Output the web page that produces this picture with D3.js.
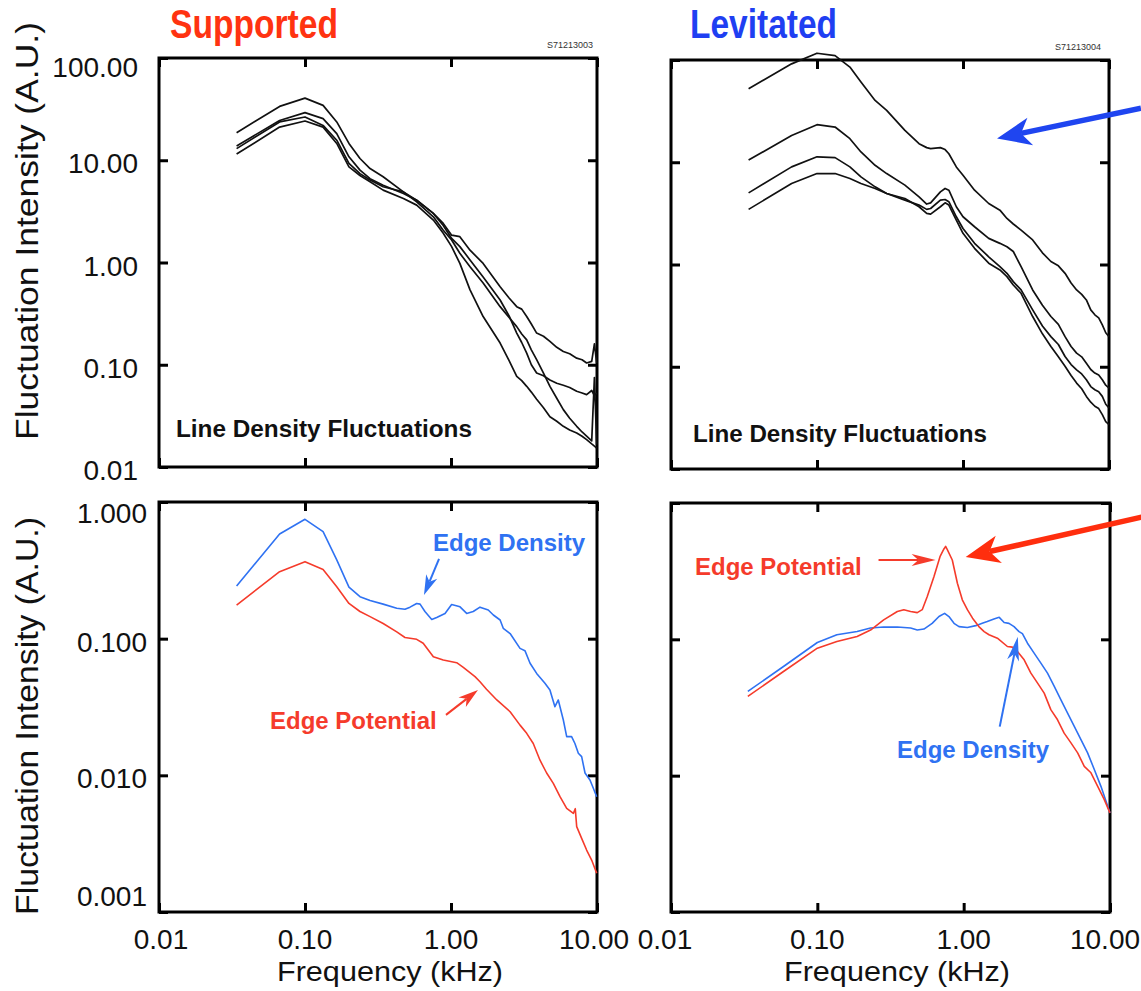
<!DOCTYPE html>
<html>
<head>
<meta charset="utf-8">
<script src="https://cdnjs.cloudflare.com/ajax/libs/d3/7.8.5/d3.min.js"></script>
<style>
body { margin: 0; background: #fff; }
svg { display: block; font-family: "Liberation Sans", Arial, Helvetica, sans-serif; }
</style>
</head>
<body>
<div id="chart"></div>
<script>
// ---- line density spectra, supported (top left), kHz / A.U.
var freqTL = [0.034, 0.067, 0.1, 0.133, 0.165, 0.2, 0.238, 0.279, 0.343, 0.472, 0.582, 0.757, 0.885, 1.01, 1.15, 1.35, 1.66,
	2.17, 2.5, 2.82, 3.05, 3.3, 3.55, 3.86, 4.3, 4.76, 5.3, 5.88, 6.5, 7.26, 7.9, 8.49, 9.2, 9.6, 9.95];
var lineTL1 = [18.6, 33.6, 40.5, 34.4, 23.7, 14.6, 10.4, 8.3, 6.9, 4.9, 4.07, 3.02, 2.41, 1.85, 1.79, 1.32, 0.98,
	0.58, 0.45, 0.37, 0.35, 0.296, 0.25, 0.204, 0.19, 0.169, 0.148, 0.135, 0.128, 0.116, 0.112, 0.104, 0.108, 0.16, 0.104];
var lineTL2 = [13.8, 24.5, 29.2, 25.5, 18.2, 10.8, 8.0, 6.6, 5.7, 4.73, 4.07, 3.02, 2.3, 1.72, 1.43, 1.06, 0.72,
	0.43, 0.30, 0.204, 0.165, 0.130, 0.10, 0.083, 0.078, 0.071, 0.066, 0.063, 0.060, 0.055, 0.053, 0.051, 0.056, 0.05, 0.053];
var lineTL3 = [13.0, 23.7, 26.5, 21.9, 15.7, 9.3, 7.4, 6.4, 5.5, 4.9, 3.92, 2.8, 2.07, 1.66, 1.23, 0.91, 0.63,
	0.37, 0.29, 0.236, 0.20, 0.175, 0.14, 0.112, 0.083, 0.0615, 0.047, 0.0364, 0.030, 0.025, 0.022, 0.020, 0.018, 0.075, 0.0166];
var lineTL4 = [11.5, 21.1, 24.2, 21.1, 14.6, 8.6, 7.1, 6.15, 5.1, 4.23, 3.64, 2.6, 1.93, 1.43, 0.98, 0.54, 0.296,
	0.163, 0.11, 0.077, 0.07, 0.0615, 0.054, 0.046, 0.038, 0.031, 0.028, 0.025, 0.023, 0.0215, 0.020, 0.0185, 0.0168, 0.016, 0.0153];

// ---- line density spectra, levitated (top right)
var freqTR = [0.034, 0.067, 0.1, 0.133, 0.168, 0.2, 0.25, 0.3, 0.4, 0.5, 0.564, 0.6, 0.7, 0.754, 0.8, 0.9, 1.0, 1.2, 1.5,
	1.79, 2.0, 2.21, 2.5, 3.0, 3.5, 4.0, 4.5, 5.0, 5.5, 6.0, 6.5, 7.0, 7.5, 8.0, 8.5, 9.0, 9.5, 10];
var lineTR1 = [52.3, 91.7, 116.5, 110.5, 85.2, 60.8, 40.2, 32.2, 20.5, 15.2, 13.9, 13.6, 13.9, 13.3, 12.1, 9.0, 7.47, 5.33, 3.95,
	3.40, 2.82, 2.49, 2.17, 1.74, 1.30, 1.07, 0.97, 0.82, 0.66, 0.564, 0.51, 0.45, 0.36, 0.322, 0.30, 0.257, 0.215, 0.197];
var lineTR2 = [10.5, 18.3, 23.3, 22.1, 17.0, 12.6, 9.34, 7.75, 5.97, 4.59, 3.90, 4.01, 5.13, 5.54, 5.33, 3.67, 2.93, 2.34, 1.80,
	1.61, 1.49, 1.34, 0.952, 0.564, 0.40, 0.31, 0.26, 0.197, 0.158, 0.136, 0.125, 0.108, 0.094, 0.0868, 0.083, 0.0747, 0.066, 0.0619];
var lineTR3 = [5.02, 9.01, 11.3, 11.1, 9.01, 7.19, 5.75, 4.95, 4.26, 3.81, 3.46, 3.53, 4.26, 4.32, 4.11, 2.93, 2.25, 1.61, 1.19,
	0.952, 0.82, 0.68, 0.564, 0.360, 0.25, 0.197, 0.165, 0.126, 0.105, 0.0934, 0.085, 0.0747, 0.064, 0.0596, 0.057, 0.0513, 0.043, 0.0395];
var lineTR4 = [3.46, 6.19, 7.75, 7.75, 6.93, 6.19, 5.54, 4.95, 4.42, 3.67, 3.16, 3.11, 3.67, 4.01, 3.81, 2.72, 2.02, 1.44, 1.03,
	0.884, 0.761, 0.63, 0.523, 0.310, 0.21, 0.158, 0.125, 0.101, 0.082, 0.0692, 0.061, 0.0513, 0.045, 0.0411, 0.039, 0.034, 0.029, 0.0272];

// ---- edge probes, supported (bottom left)
var freqBLdens = [0.034, 0.067, 0.1, 0.133, 0.165, 0.2, 0.238, 0.279, 0.343, 0.425, 0.484, 0.524, 0.582, 0.614, 0.663, 0.738,
	0.798, 0.910, 1.01, 1.153, 1.28, 1.42, 1.58, 1.80, 1.95, 2.17, 2.28, 2.54, 2.97, 3.21, 3.48, 3.86, 4.40, 4.76, 5.15, 5.43,
	5.88, 6.20, 6.70, 7.06, 7.45, 7.85, 8.28, 8.95, 9.44, 9.95];
var densBL = [0.243, 0.583, 0.747, 0.607, 0.377, 0.238, 0.203, 0.190, 0.179, 0.167, 0.164, 0.170, 0.181, 0.179, 0.158, 0.138,
	0.143, 0.153, 0.178, 0.171, 0.153, 0.158, 0.170, 0.162, 0.149, 0.137, 0.119, 0.109, 0.0849, 0.0817, 0.0661, 0.0557, 0.0471, 0.0421, 0.0318, 0.0356,
	0.0254, 0.0192, 0.0192, 0.0171, 0.0145, 0.0137, 0.0104, 0.00925, 0.00804, 0.00698];
var freqBLpot = [0.034, 0.067, 0.1, 0.133, 0.165, 0.2, 0.238, 0.279, 0.343, 0.425, 0.484, 0.582, 0.645, 0.757, 0.885, 1.094,
	1.214, 1.46, 1.58, 1.75, 2.06, 2.54, 2.97, 3.30, 3.66, 4.07, 4.52, 5.02, 5.58, 6.20, 6.89, 7.1, 7.26, 7.85, 8.49, 9.19, 9.95];
var potBL = [0.176, 0.309, 0.366, 0.321, 0.240, 0.181, 0.158, 0.145, 0.129, 0.112, 0.102, 0.0989, 0.0925, 0.0738, 0.0698, 0.0667,
	0.0617, 0.0527, 0.0484, 0.0426, 0.0356, 0.0292, 0.0233, 0.0203, 0.0171, 0.0129, 0.0104, 0.00873, 0.00698, 0.00574, 0.00527, 0.0057, 0.00421, 0.00346, 0.00284, 0.00240, 0.00192];

// ---- edge probes, levitated (bottom right)
var freqBRpot = [0.0335, 0.0587, 0.1, 0.136, 0.187, 0.231, 0.284, 0.352, 0.390, 0.434, 0.482, 0.521, 0.564, 0.627, 0.689, 0.733,
	0.753, 0.773, 0.836, 0.906, 0.979, 1.06, 1.15, 1.27, 1.38, 1.49, 1.70, 1.99, 2.15, 2.33, 2.59, 2.88, 3.20, 3.55, 3.94, 4.38,
	4.86, 5.41, 6.01, 6.67, 7.41, 8.24, 9.14, 10];
var potBR = [0.0381, 0.0581, 0.0861, 0.0964, 0.105, 0.117, 0.139, 0.160, 0.165, 0.160, 0.157, 0.165, 0.206, 0.289, 0.404, 0.46,
	0.48, 0.455, 0.382, 0.258, 0.195, 0.165, 0.143, 0.124, 0.114, 0.108, 0.102, 0.0886, 0.0877, 0.0814, 0.0707, 0.0565, 0.0477, 0.0403, 0.0305, 0.0257,
	0.0205, 0.0174, 0.0147, 0.0117, 0.0105, 0.00835, 0.00667, 0.00533];
var freqBRdens = [0.0335, 0.0587, 0.1, 0.136, 0.187, 0.231, 0.284, 0.352, 0.434, 0.482, 0.535, 0.609, 0.678, 0.741, 0.793, 0.859,
	0.929, 1.06, 1.21, 1.34, 1.45, 1.61, 1.75, 1.89, 2.04, 2.21, 2.39, 2.52, 2.73, 3.03, 3.37, 3.74, 4.16, 4.62, 5.13, 5.70,
	6.33, 7.03, 7.81, 8.67, 10];
var densBR = [0.0415, 0.0632, 0.0948, 0.108, 0.114, 0.121, 0.123, 0.123, 0.121, 0.117, 0.119, 0.131, 0.147, 0.155, 0.147, 0.131,
	0.124, 0.122, 0.126, 0.131, 0.135, 0.141, 0.145, 0.133, 0.131, 0.124, 0.114, 0.110, 0.0937, 0.0792, 0.0669, 0.0565, 0.0451, 0.0360, 0.0288, 0.0230,
	0.0184, 0.0147, 0.0111, 0.00835, 0.00533];

// ---- ticks
var xTicks = [0.01, 0.1, 1, 10];
var xTickLabels = ["0.01", "0.10", "1.00", "10.00"];
var yTicksTop = [0.01, 0.1, 1, 10, 100];
var yTickLabelsTop = ["0.01", "0.10", "1.00", "10.00", "100.00"];
var yTicksBottom = [0.001, 0.01, 0.1, 1];
var yTickLabelsBottom = ["0.001", "0.010", "0.100", "1.000"];

var RED = "#f53b2b", BLUE = "#2f72f2";

var width = 1141, height = 991, svg;

function init() {
	svg = d3.select("#chart").append("svg")
		.attr("width", width)
		.attr("height", height);

	var tl = drawPanel({left: 159, right: 597, top: 58, bottom: 467, yDomain: [0.01, 100]});
	var tr = drawPanel({left: 671, right: 1109, top: 60, bottom: 469, yDomain: [0.01, 100]});
	var bl = drawPanel({left: 159, right: 597, top: 502, bottom: 912, yDomain: [0.001, 1]});
	var br = drawPanel({left: 671, right: 1110, top: 503, bottom: 912, yDomain: [0.001, 1]});

	[lineTL1, lineTL2, lineTL3, lineTL4].forEach(function(v) { drawSeries(tl, freqTL, v, "#111", 1.7); });
	[lineTR1, lineTR2, lineTR3, lineTR4].forEach(function(v) { drawSeries(tr, freqTR, v, "#111", 1.7); });
	drawSeries(bl, freqBLpot, potBL, RED, 1.6);
	drawSeries(bl, freqBLdens, densBL, BLUE, 1.6);
	drawSeries(br, freqBRdens, densBR, BLUE, 1.6);
	drawSeries(br, freqBRpot, potBR, RED, 1.6);

	// y tick labels (left panels only)
	yLabels(tl, yTicksTop, yTickLabelsTop, 138, {"100": 9});
	yLabels(bl, yTicksBottom, yTickLabelsBottom, 147, {"1": 11, "0.001": -16});
	// x tick labels (bottom panels only)
	xLabels(bl, {"0.01": 2, "10": -3});
	xLabels(br, {"0.01": -6, "10": -5});

	// axis titles
	yTitle(38, 231, 418);
	yTitle(38, 716, 398);
	xTitle(390);
	xTitle(897);

	// panel titles
	svg.append("text").attr("x", 170).attr("y", 38).attr("font-size", 40).attr("font-weight", "bold")
		.attr("fill", "#ff3311").attr("textLength", 168).attr("lengthAdjust", "spacingAndGlyphs").text("Supported");
	svg.append("text").attr("x", 690).attr("y", 38).attr("font-size", 40).attr("font-weight", "bold")
		.attr("fill", "#1f3ff2").attr("textLength", 147).attr("lengthAdjust", "spacingAndGlyphs").text("Levitated");
	svg.append("text").attr("x", 593).attr("y", 48).attr("text-anchor", "end").attr("font-size", 9)
		.attr("fill", "#333").text("S71213003");
	svg.append("text").attr("x", 1101).attr("y", 50).attr("text-anchor", "end").attr("font-size", 9)
		.attr("fill", "#333").text("S71213004");

	// in-panel labels
	boldText(176, 437, "Line Density Fluctuations", "#111", 23, 296);
	boldText(693, 442, "Line Density Fluctuations", "#111", 23, 294);
	boldText(433, 551, "Edge Density", BLUE, 24);
	boldText(270, 729, "Edge Potential", RED, 24);
	boldText(695, 575, "Edge Potential", RED, 24);
	boldText(897, 758, "Edge Density", BLUE, 24);

	// arrows, given in data units of each panel
	arrow(bl, [0.828, 0.383], [0.653, 0.209], BLUE, 2, 20, 6);
	arrow(bl, [0.924, 0.0277], [1.53, 0.0421], RED, 2, 20, 6);
	arrow(br, [0.262, 0.382], [0.643, 0.382], RED, 2, 24, 6);
	arrow(br, [1.764, 0.0229], [2.344, 0.1043], BLUE, 2, 24, 6);
	arrow(br, [16.56, 0.789], [1.032, 0.402], "#ff2e0e", 5.5, 34, 14);
	arrow(tr, [16.56, 33.7], [1.71, 17.1], "#1f45f0", 5.5, 34, 14);
}

function drawPanel(p) {
	var x = d3.scaleLog().domain([0.01, 10]).range([p.left, p.right]);
	var y = d3.scaleLog().domain(p.yDomain).range([p.bottom, p.top]);
	var g = svg.append("g");
	var yt = p.yDomain[0] < 0.005 ? yTicksBottom : yTicksTop;

	// inward ticks on all four sides
	g.append("g").attr("transform", "translate(0," + p.bottom + ")")
		.call(d3.axisBottom(x).tickValues(xTicks).tickSize(-9).tickFormat(""));
	g.append("g").attr("transform", "translate(0," + p.top + ")")
		.call(d3.axisTop(x).tickValues(xTicks).tickSize(-9).tickFormat(""));
	g.append("g").attr("transform", "translate(" + p.left + ",0)")
		.call(d3.axisLeft(y).tickValues(yt).tickSize(-9).tickFormat(""));
	g.append("g").attr("transform", "translate(" + p.right + ",0)")
		.call(d3.axisRight(y).tickValues(yt).tickSize(-9).tickFormat(""));
	g.selectAll(".domain").remove();
	g.selectAll(".tick line").attr("stroke", "#000").attr("stroke-width", 3);

	g.append("rect")
		.attr("x", p.left).attr("y", p.top)
		.attr("width", p.right - p.left).attr("height", p.bottom - p.top)
		.attr("fill", "none").attr("stroke", "#000").attr("stroke-width", 3);

	return {g: g, x: x, y: y, p: p};
}

function drawSeries(panel, f, v, color, w) {
	var line = d3.line()
		.x(function(d) { return panel.x(d[0]); })
		.y(function(d) { return panel.y(d[1]); });
	panel.g.append("path")
		.datum(d3.zip(f, v))
		.attr("d", line)
		.attr("fill", "none")
		.attr("stroke", color)
		.attr("stroke-width", w)
		.attr("stroke-linejoin", "round");
}

function yLabels(panel, ticks, labels, xr, shift) {
	ticks.forEach(function(t, i) {
		var dy = shift[String(t)] || 3;
		svg.append("text")
			.attr("x", xr)
			.attr("y", panel.y(t) + dy + 10)
			.attr("text-anchor", "end")
			.attr("font-size", 28)
			.attr("fill", "#111")
			.text(labels[i]);
	});
}

function xLabels(panel, shift) {
	xTicks.forEach(function(t, i) {
		var dx = shift[String(t)] || 0;
		svg.append("text")
			.attr("x", panel.x(t) + dx)
			.attr("y", 949)
			.attr("text-anchor", "middle")
			.attr("font-size", 28)
			.attr("fill", "#111")
			.text(xTickLabels[i]);
	});
}

function xTitle(xc) {
	svg.append("text")
		.attr("x", xc).attr("y", 981)
		.attr("text-anchor", "middle")
		.attr("font-size", 28)
		.attr("fill", "#111")
		.attr("textLength", 226)
		.attr("lengthAdjust", "spacingAndGlyphs")
		.text("Frequency (kHz)");
}

function yTitle(xb, yc, len) {
	svg.append("text")
		.attr("transform", "translate(" + xb + "," + yc + ") rotate(-90)")
		.attr("text-anchor", "middle")
		.attr("font-size", 32)
		.attr("fill", "#111")
		.attr("textLength", len)
		.attr("lengthAdjust", "spacingAndGlyphs")
		.text("Fluctuation Intensity (A.U.)");
}

function boldText(x, y, s, color, size, len) {
	var t = svg.append("text")
		.attr("x", x).attr("y", y)
		.attr("font-size", size)
		.attr("font-weight", "bold")
		.attr("fill", color)
		.text(s);
	if (len) t.attr("textLength", len).attr("lengthAdjust", "spacingAndGlyphs");
}

function arrow(panel, from, to, color, w, hl, hw) {
	var x1 = panel.x(from[0]), y1 = panel.y(from[1]);
	var x2 = panel.x(to[0]), y2 = panel.y(to[1]);
	var a = Math.atan2(y2 - y1, x2 - x1), c = Math.cos(a), s = Math.sin(a);
	var bx = x2 - hl * c, by = y2 - hl * s;
	var nx = x2 - hl * 0.72 * c, ny = y2 - hl * 0.72 * s;
	svg.append("line")
		.attr("x1", x1).attr("y1", y1).attr("x2", nx).attr("y2", ny)
		.attr("stroke", color).attr("stroke-width", w);
	svg.append("polygon")
		.attr("points", [[x2, y2], [bx - hw * s, by + hw * c], [nx, ny], [bx + hw * s, by - hw * c]].join(" "))
		.attr("fill", color);
}

window.onload = init;
</script>
</body>
</html>
